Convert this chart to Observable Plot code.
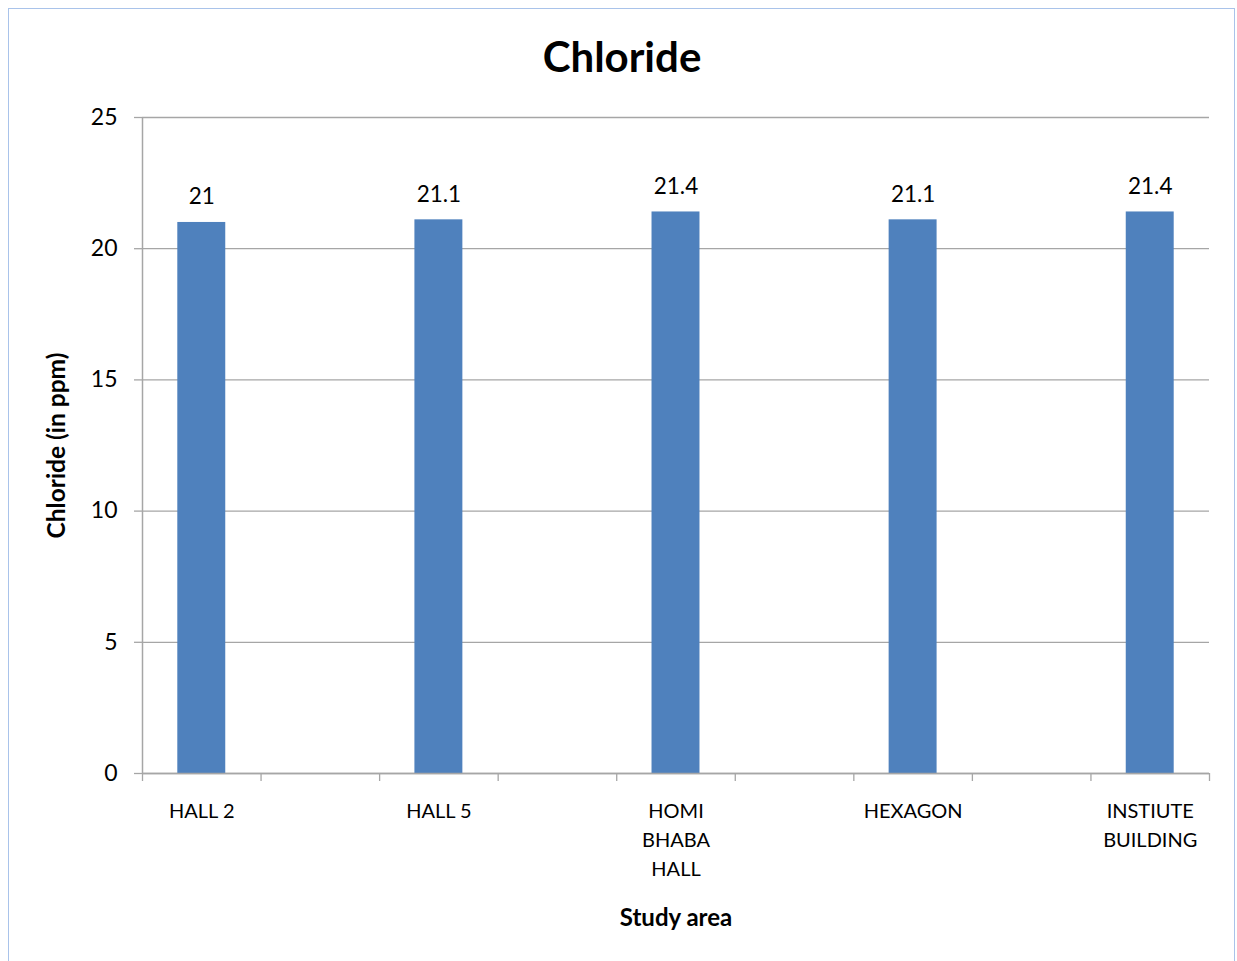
<!DOCTYPE html>
<html>
<head>
<meta charset="utf-8">
<script src="https://cdn.jsdelivr.net/npm/d3@7"></script>
<script src="https://cdn.jsdelivr.net/npm/@observablehq/plot@0.6"></script>
<style>
  html, body { margin: 0; padding: 0; background: #fff; }
  #chart { position: relative; width: 1237px; height: 961px; overflow: hidden; font-family: Lato, "Open Sans", sans-serif; }
  #frame { position: absolute; left: 8px; top: 8px; width: 1227px; height: 970px; border: 1.5px solid #a9c3ea; box-sizing: border-box; }
  #title { position: absolute; left: 8px; width: 1228px; top: 28px; text-align: center; font-size: 42px; font-weight: bold; color: #000; line-height: 56px; }
  #plot { position: absolute; left: 0; top: 100px; }
</style>
</head>
<body>
<div id="chart">
  <div id="frame"></div>
  <div id="title">Chloride</div>
  <div id="plot"></div>
</div>
<script>
// Chloride concentration by study area
const areas = ["HALL 2", "HALL 5", "HOMI\nBHABA\nHALL", "HEXAGON", "INSTIUTE\nBUILDING"];
const chloride = [21, 21.1, 21.4, 21.1, 21.4];
const yTicks = [0, 5, 10, 15, 20, 25];

// The category axis has nine slots; the areas sit on every other one
const slotCount = areas.length * 2 - 1;
const rows = areas.map((area, i) => ({area, value: chloride[i], slot: i * 2}));

const axisGray = "#a6a6a6";
const font = "Lato, 'Open Sans', sans-serif";

const chart = Plot.plot({
  width: 1237,
  height: 861,
  marginTop: 17,
  marginLeft: 142,
  marginRight: 28,
  marginBottom: 188,
  style: {fontFamily: font, color: "#000", background: "transparent"},
  x: {type: "linear", domain: [0, slotCount], axis: null},
  y: {domain: [0, 25], axis: null},
  marks: [
    Plot.gridY(yTicks, {stroke: axisGray, strokeOpacity: 1, strokeWidth: 1.3}),
    Plot.rectY(rows, {
      x1: "slot",
      x2: d => d.slot + 1,
      y: "value",
      fill: "#4f81bd",
      insetLeft: 35.3,
      insetRight: 35.3
    }),
    Plot.ruleX([0], {stroke: axisGray, strokeWidth: 1.5}),
    Plot.ruleY([0], {stroke: axisGray, strokeWidth: 1.5}),
    Plot.axisY({
      ticks: yTicks,
      tickSize: 8,
      tickPadding: 17,
      stroke: axisGray,
      strokeWidth: 1.3,
      fontSize: 23,
      fill: "#000",
      label: null
    }),
    Plot.axisX({
      ticks: d3.range(slotCount + 1),
      tickSize: 8,
      tickFormat: () => "",
      stroke: axisGray,
      strokeWidth: 1.3,
      label: null
    }),
    // value labels above each bar
    Plot.text(rows, {
      x: d => d.slot + 0.5,
      y: "value",
      text: d => String(d.value),
      lineAnchor: "bottom",
      dy: -18,
      fontSize: 22.5,
      fill: "#000"
    }),
    // category labels below the axis
    Plot.text(rows, {
      x: d => d.slot + 0.5,
      y: () => 0,
      text: "area",
      lineAnchor: "top",
      lineHeight: 1.45,
      dy: 24,
      fontSize: 20,
      fill: "#000"
    }),
    Plot.text(["Study area"], {
      frameAnchor: "bottom",
      lineAnchor: "middle",
      dy: 145,
      fontSize: 24,
      fontWeight: "bold",
      fill: "#000"
    }),
    Plot.text(["Chloride (in ppm)"], {
      frameAnchor: "left",
      textAnchor: "middle",
      lineAnchor: "middle",
      rotate: -90,
      dx: -85,
      fontSize: 24.5,
      fontWeight: "bold",
      fill: "#000"
    })
  ]
});

document.getElementById("plot").appendChild(chart);
</script>
</body>
</html>
